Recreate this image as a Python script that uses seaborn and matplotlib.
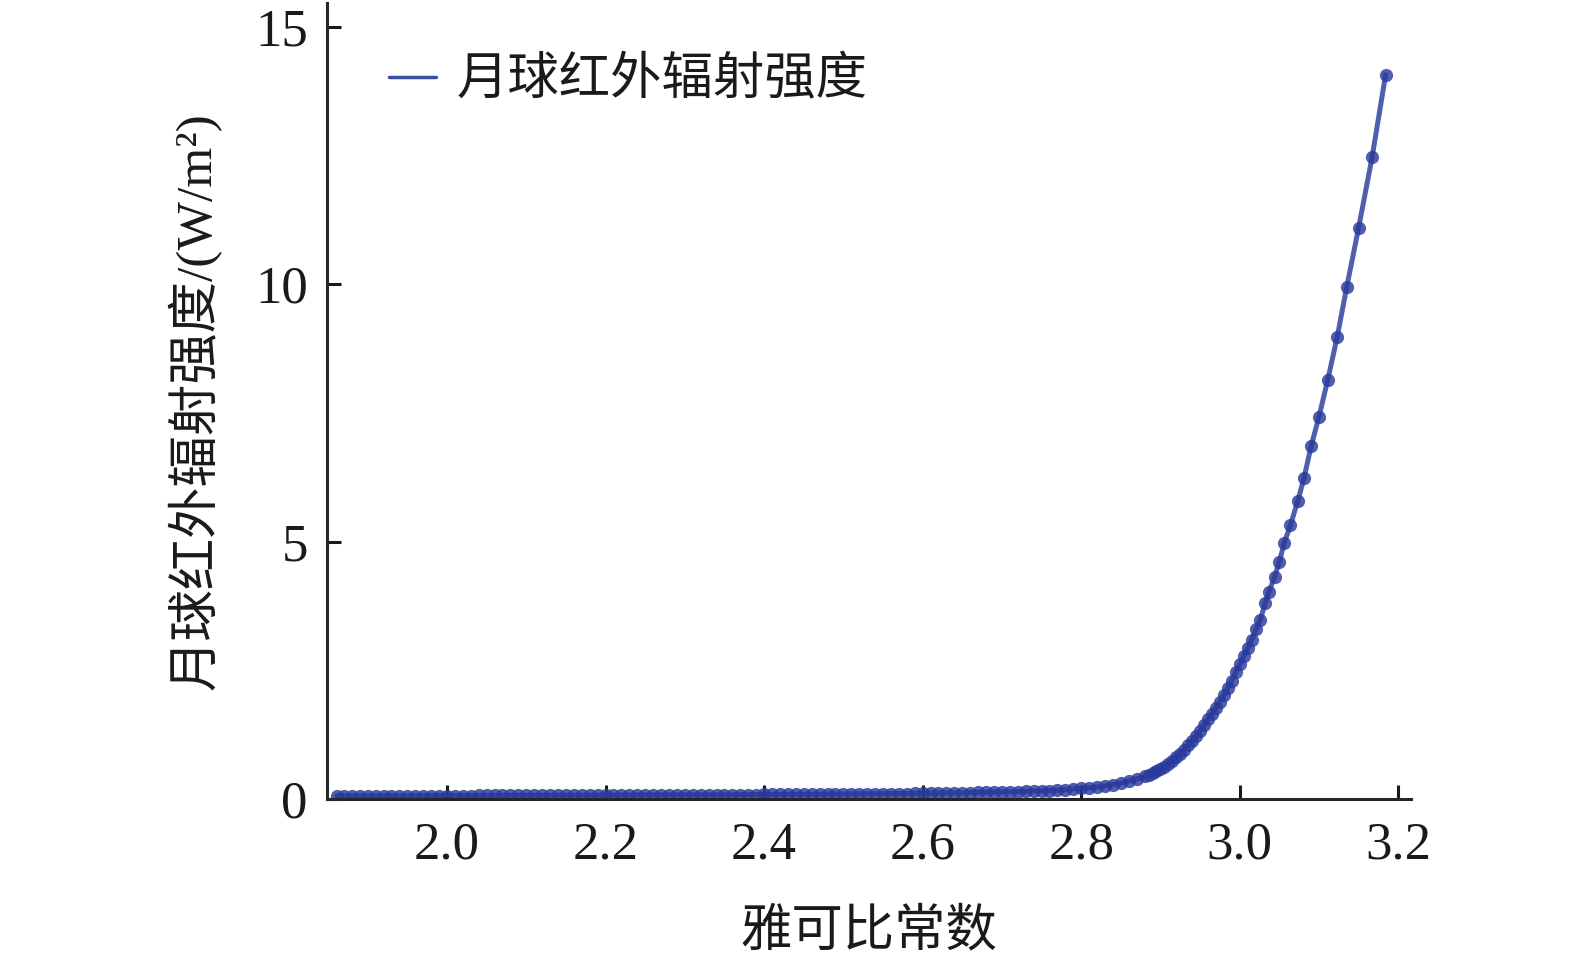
import matplotlib
matplotlib.use("Agg")
import matplotlib.pyplot as plt
from matplotlib.lines import Line2D
import seaborn as sns
import pandas as pd

# values
jacobi = [
    1.861, 1.87, 1.88, 1.89, 1.90, 1.91, 1.92, 1.93, 1.94, 1.95, 1.96, 1.97, 1.98, 1.99,
    2.00, 2.01, 2.02, 2.03, 2.04, 2.05, 2.06, 2.07, 2.08, 2.09, 2.10, 2.11, 2.12, 2.13,
    2.14, 2.15, 2.16, 2.17, 2.18, 2.19, 2.20, 2.21, 2.22, 2.23, 2.24, 2.25, 2.26, 2.27,
    2.28, 2.29, 2.30, 2.31, 2.32, 2.33, 2.34, 2.35, 2.36, 2.37, 2.38, 2.39, 2.40, 2.41,
    2.42, 2.43, 2.44, 2.45, 2.46, 2.47, 2.48, 2.49, 2.50, 2.51, 2.52, 2.53, 2.54, 2.55,
    2.56, 2.57, 2.58, 2.59, 2.60, 2.61, 2.62, 2.63, 2.64, 2.65, 2.66, 2.67, 2.68, 2.69,
    2.70, 2.71, 2.72, 2.73, 2.74, 2.75, 2.76, 2.77, 2.78, 2.79, 2.80, 2.81, 2.82, 2.83,
    2.84, 2.85, 2.86, 2.87, 2.88, 2.885, 2.89, 2.895, 2.90, 2.905, 2.91, 2.915, 2.92,
    2.925, 2.93, 2.935, 2.94, 2.945, 2.95, 2.955, 2.96, 2.965, 2.97, 2.975, 2.98, 2.985,
    2.99, 2.995, 3.00, 3.005, 3.01, 3.015, 3.021, 3.026, 3.032, 3.037, 3.044, 3.050,
    3.056, 3.064, 3.073, 3.081, 3.090, 3.100, 3.111, 3.123, 3.135, 3.150, 3.167, 3.184,
]
radiance = [
    0.060, 0.060, 0.060, 0.060, 0.061, 0.061, 0.062, 0.062, 0.063, 0.063, 0.064, 0.064, 0.065, 0.065,
    0.066, 0.066, 0.067, 0.067, 0.068, 0.068, 0.069, 0.069, 0.070, 0.070, 0.071, 0.071, 0.072, 0.072,
    0.073, 0.073, 0.074, 0.074, 0.075, 0.075, 0.076, 0.076, 0.077, 0.077, 0.078, 0.078, 0.079, 0.079,
    0.080, 0.080, 0.081, 0.081, 0.082, 0.082, 0.083, 0.083, 0.084, 0.085, 0.085, 0.086, 0.087, 0.088,
    0.088, 0.089, 0.090, 0.091, 0.092, 0.093, 0.094, 0.095, 0.096, 0.097, 0.098, 0.099, 0.100, 0.102,
    0.103, 0.105, 0.106, 0.108, 0.110, 0.112, 0.114, 0.116, 0.118, 0.120, 0.123, 0.126, 0.129, 0.132,
    0.135, 0.139, 0.143, 0.147, 0.152, 0.157, 0.163, 0.170, 0.180, 0.195, 0.210, 0.220, 0.235, 0.255,
    0.280, 0.310, 0.345, 0.390, 0.440, 0.470, 0.500, 0.540, 0.580, 0.630, 0.680, 0.740, 0.810,
    0.880, 0.960, 1.040, 1.120, 1.220, 1.320, 1.430, 1.550, 1.660, 1.770, 1.890, 2.020, 2.160,
    2.300, 2.460, 2.620, 2.770, 2.930, 3.090, 3.300, 3.480, 3.800, 4.030, 4.320, 4.610,
    4.970, 5.320, 5.780, 6.230, 6.850, 7.430, 8.140, 8.980, 9.950, 11.100, 12.470, 14.070,
]
series_name = "月球红外辐射强度"
x_label = "雅可比常数"
y_label = "月球红外辐射强度/(W/m²)"
x_ticks = [2.0, 2.2, 2.4, 2.6, 2.8, 3.0, 3.2]
y_ticks = [0, 5, 10, 15]

df = pd.DataFrame({"jacobi": jacobi, "radiance": radiance})

sns.set_style("ticks")
plt.rcParams["font.family"] = ["Liberation Serif", "Noto Sans CJK SC"]
plt.rcParams["axes.linewidth"] = 2.2

line_color = "#2a3a9c"

fig = plt.figure(figsize=(15.75, 9.61), dpi=100)
ax = fig.add_axes([0.2078, 0.1686, 0.6879, 0.828])

sns.lineplot(data=df, x="jacobi", y="radiance", ax=ax, color=line_color,
             linewidth=3.6, marker="o", markersize=9.5, markeredgewidth=0,
             alpha=0.82, legend=False)

ax.set_xlim(1.849, 3.2157)
ax.set_ylim(0, 15.46)
ax.set_xticks(x_ticks)
ax.set_xticklabels([f"{t:.1f}" for t in x_ticks])
ax.set_yticks(y_ticks)
ax.set_yticklabels([str(t) for t in y_ticks])
ax.tick_params(direction="in", length=10, width=2.2, labelsize=38, colors="#1a1a1a")
ax.tick_params(axis="x", pad=16)
ax.tick_params(axis="y", pad=14)

sns.despine(ax=ax)

ax.set_xlabel(x_label, fontsize=37, labelpad=28, color="#1a1a1a")
ax.set_ylabel(y_label, fontsize=37, labelpad=24, color="#1a1a1a")

handle = Line2D([0], [0], color="#3a4e9e", linewidth=2.5)
ax.legend([handle], [series_name], loc="upper left", bbox_to_anchor=(0.014, 0.99),
          frameon=False, fontsize=37, handlelength=0.92, handletextpad=0.4,
          labelcolor="#1a1a1a")

fig.savefig("out.png", dpi=100)
